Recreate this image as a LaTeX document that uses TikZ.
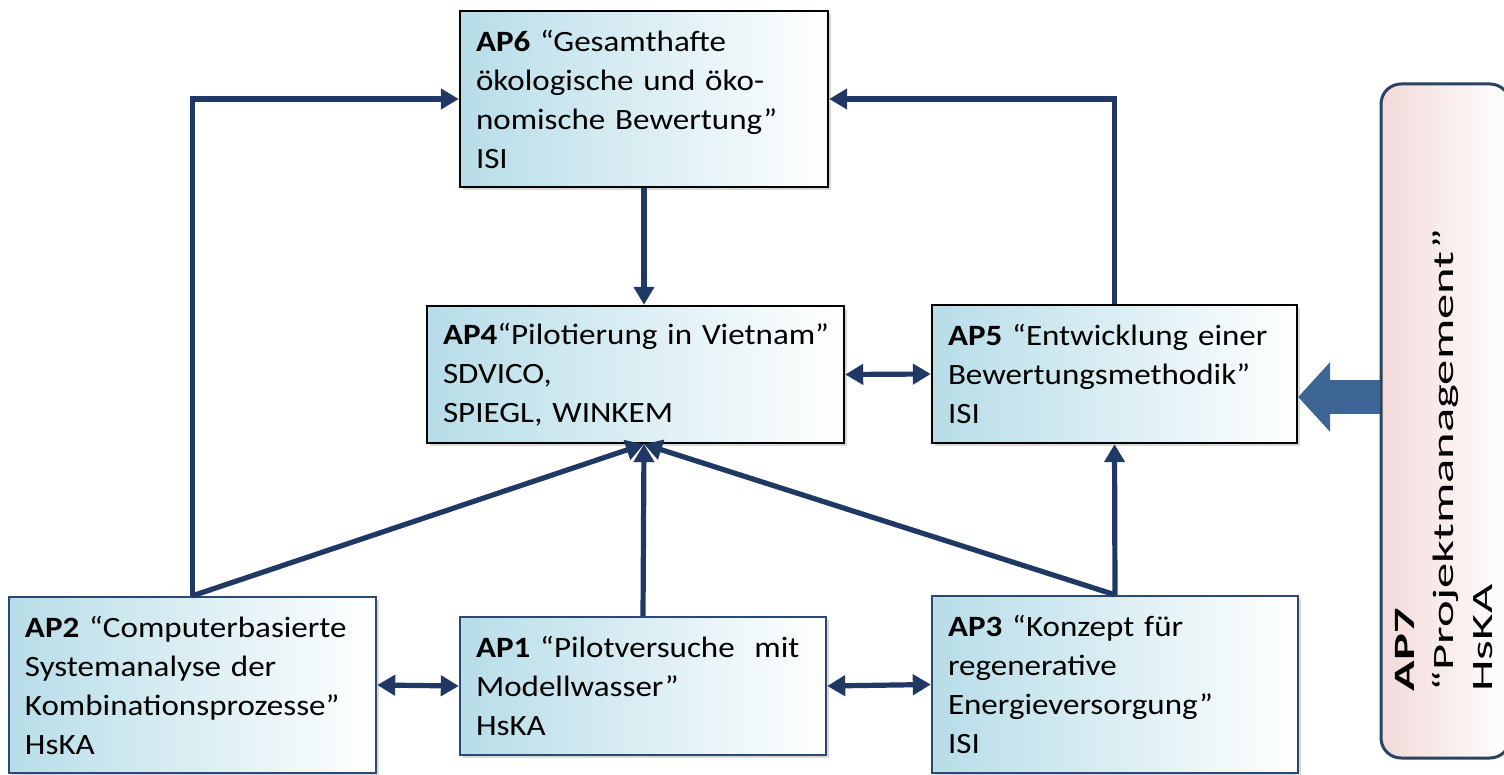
\documentclass[tikz,border=0pt]{standalone}
\usepackage{graphicx}
\usepackage{fontspec}
\setmainfont{Carlito}[FakeStretch=1.12]
\usetikzlibrary{arrows.meta,shadows}

\definecolor{linkblue}{RGB}{31,56,100}
\definecolor{boxblue}{RGB}{183,221,232}
\definecolor{boxedge}{RGB}{44,74,112}
\definecolor{pmpink}{RGB}{242,218,217}
\definecolor{pmedge}{RGB}{43,67,96}
\definecolor{bigblue}{RGB}{61,101,150}

\begin{document}
\begin{tikzpicture}[x=0.5pt,y=-0.5pt,
  ap/.style={rectangle, draw=black, line width=1.2pt, left color=boxblue, right color=white,
    drop shadow={shadow xshift=1.5pt, shadow yshift=-1.5pt, opacity=0.3},
    inner xsep=8pt, align=left, font=\fontsize{14.75}{19.5}\selectfont},
  apb/.style={ap, draw=boxedge},
  link/.style={draw=linkblue, line width=2.6pt, -{Triangle[length=9pt,width=10pt]}},
  both/.style={link, {Triangle[length=9pt,width=10pt]}-{Triangle[length=9pt,width=10pt]}},
  bigarrow/.style={draw=bigblue, line width=17pt, -{Triangle[length=16pt,width=35pt,line width=0pt]}}]

	\useasboundingbox (0,0) rectangle (1504,775);

	% work packages
	\node[ap, minimum width=184pt, text width=168pt, minimum height=88pt] (ap6) at (644,99)
		{\textbf{AP6} “Gesamthafte\\ökologische und öko-\\nomische Bewertung”\\ISI};
	\node[ap, minimum width=208.5pt, text width=192.5pt, minimum height=68.5pt] (ap4) at (635.5,374.5)
		{\mbox{\textbf{AP4}“Pilotierung in Vietnam”}\\SDVICO,\\SPIEGL, WINKEM};
	\node[ap, minimum width=182.5pt, text width=166.5pt, minimum height=69pt] (ap5) at (1114.5,374)
		{\textbf{AP5} “Entwicklung einer\\Bewertungsmethodik”\\ISI};
	\node[apb, minimum width=183.5pt, text width=167.5pt, minimum height=88pt] (ap2) at (192.5,685)
		{\textbf{AP2} “Computerbasierte\\Systemanalyse der\\Kombinationsprozesse”\\HsKA};
	\node[apb, minimum width=183pt, text width=167pt, minimum height=69pt] (ap1) at (643,686)
		{\textbf{AP1} “Pilotversuche\ \ mit\\Modellwasser”\\HsKA};
	\node[apb, minimum width=183pt, text width=167pt, minimum height=88.5pt] (ap3) at (1115,684.5)
		{\textbf{AP3} “Konzept für\\regenerative\\Energieversorgung”\\ISI};

	% project management
	\node[rectangle, rounded corners=10pt, draw=pmedge, line width=1.5pt, left color=pmpink, right color=white,
		minimum width=64.5pt, minimum height=337pt, inner sep=0pt, font=\fontsize{14.75}{19.5}\selectfont] (ap7) at (1445.5,421)
		{\rotatebox{90}{\scalebox{1.53}[1]{\begin{tabular}{@{}l@{}}\textbf{AP7}\\“Projektmanagement”\\HsKA\end{tabular}}\hspace{39pt}}};

	\coordinate (ap4in) at (ap6.south |- ap4.south);
	\coordinate (pm) at ([yshift=12pt]ap7.west);

	\draw[link] (ap2.north) |- (ap6.west);
	\draw[link] (ap5.north) |- (ap6.east);
	\draw[link] (ap6.south) -- (ap6.south |- ap4.north);
	\draw[both] (ap4.east) -- (ap5.west);
	\draw[link] (ap2.north) -- (ap4in);
	\draw[link] (ap1.north) -- (ap4in);
	\draw[link] (ap3.north) -- (ap4in);
	\draw[link] (ap3.north) -- (ap5.south);
	\draw[both] (ap2.east) -- (ap1.west);
	\draw[both] (ap1.east) -- (ap3.west);
	\draw[bigarrow] (pm) -- (pm -| ap5.east);
\end{tikzpicture}
\end{document}
